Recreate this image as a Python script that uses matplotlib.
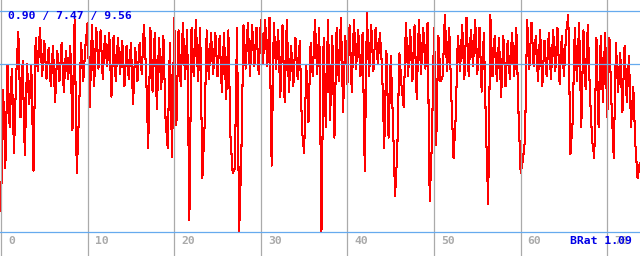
import matplotlib
matplotlib.use("Agg")
import matplotlib.pyplot as plt

# values, one sample every 0.25 on the x axis
values = [
    1.72, 6.46, 3.40, 7.44, 5.00, 7.30, 4.00, 7.00, 8.74, 5.40,
    7.60, 3.90, 7.50, 5.90, 7.40, 3.30, 8.50, 7.20, 8.90, 7.00,
    8.40, 6.90, 8.10, 6.60, 8.20, 6.00, 8.00, 6.80, 8.30, 6.40,
    8.00, 6.90, 8.20, 4.90, 9.20, 3.20, 5.50, 8.30, 6.80, 8.20,
    9.10, 5.80, 9.00, 6.60, 8.90, 7.30, 8.80, 6.90, 8.60, 7.40,
    8.70, 6.20, 8.60, 6.80, 8.50, 7.10, 8.40, 6.60, 8.20, 6.90,
    8.30, 5.90, 8.10, 6.80, 8.30, 7.10, 9.00, 7.20, 4.20, 8.90,
    6.40, 8.70, 5.70, 8.50, 6.50, 8.60, 5.30, 4.20, 8.30, 3.85,
    9.30, 5.10, 8.80, 6.60, 9.10, 6.90, 8.80, 1.37, 8.90, 7.00,
    9.20, 6.80, 8.90, 3.00, 5.00, 8.80, 6.90, 8.70, 7.10, 8.70,
    7.00, 8.60, 6.40, 8.70, 6.10, 8.80, 4.60, 3.20, 3.40, 8.90,
    0.90, 3.90, 9.00, 7.30, 9.10, 7.00, 9.00, 7.40, 8.90, 7.10,
    9.20, 7.50, 9.20, 7.40, 9.30, 3.50, 9.10, 7.30, 8.80, 6.20,
    9.00, 6.00, 9.20, 6.40, 8.20, 6.60, 8.50, 6.90, 8.40, 4.90,
    4.00, 7.40, 5.20, 8.30, 7.00, 9.20, 7.10, 8.90, 0.90, 8.50,
    5.00, 9.20, 5.30, 8.60, 4.60, 8.90, 6.80, 9.30, 5.60, 8.60,
    6.70, 9.00, 6.40, 9.20, 7.30, 8.80, 7.00, 8.70, 3.30, 9.50,
    7.00, 9.00, 7.20, 8.90, 7.50, 8.70, 7.30, 4.20, 8.00, 4.60,
    7.80, 5.30, 2.30, 4.00, 7.90, 6.60, 5.80, 9.10, 7.00, 8.80,
    6.80, 9.00, 6.10, 9.20, 7.10, 8.90, 7.30, 9.10, 2.10, 4.40,
    8.90, 4.30, 8.60, 6.80, 7.00, 9.40, 7.20, 8.90, 6.20, 3.80,
    5.40, 8.60, 7.20, 9.00, 6.90, 9.30, 7.00, 8.80, 7.40, 9.20,
    7.10, 8.90, 6.40, 8.70, 4.90, 2.00, 9.40, 7.00, 8.60, 6.80,
    8.50, 6.20, 8.60, 6.60, 8.40, 6.90, 8.70, 7.00, 8.90, 5.60,
    3.20, 3.70, 4.50, 9.20, 7.30, 9.10, 7.40, 8.60, 6.80, 8.80,
    6.60, 8.40, 7.00, 8.70, 6.90, 8.80, 7.20, 8.90, 6.70, 8.60,
    7.00, 8.70, 9.40, 3.95, 5.20, 8.90, 6.80, 9.10, 5.00, 8.80,
    6.50, 9.00, 6.30, 4.50, 3.80, 8.50, 5.00, 8.60, 6.00, 8.70,
    5.40, 8.50, 5.80, 3.80, 8.30, 6.40, 7.90, 5.60, 8.20, 6.00,
    7.80, 5.00, 6.60, 4.30, 3.00, 3.60,
]
xs = [i * 0.25 for i in range(len(values))]

ref_lines = [0.90, 7.47, 9.56]
x_ticks = [0, 10, 20, 30, 40, 50, 60, 70]
stats_text = "0.90 / 7.47 / 9.56"
corner_text = "BRat 1.09"

fig = plt.figure(figsize=(6.4, 2.56), dpi=100)
ax = fig.add_axes([0, 0, 1, 1])
ax.set_xlim(-0.115, 73.78)
ax.set_ylim(-0.04, 9.99)
ax.axis("off")

ax.plot(xs, values, color="#ff0000", lw=0.75, antialiased=False, zorder=2)

# grid drawn over the data
for x in x_ticks:
    ax.axvline(x, color="#aaaaaa", lw=0.9, zorder=3)
for y in ref_lines:
    ax.axhline(y, color="#66aaee", lw=0.9, zorder=3)

mono = {"family": "DejaVu Sans Mono", "weight": "bold", "size": 8.2}
for x in x_ticks:
    ax.text(x + 0.8, 0.057, str(x), color="#aaaaaa", va="center", ha="left",
            transform=ax.get_xaxis_transform(), zorder=4, **mono)

ax.text(0.0125, 0.939, stats_text, color="#0000e6", va="center", ha="left",
        transform=ax.transAxes, zorder=5, **mono)
ax.text(0.988, 0.057, corner_text, color="#0000e6", va="center", ha="right",
        transform=ax.transAxes, zorder=5, **mono)

fig.savefig("out.png", dpi=100)
